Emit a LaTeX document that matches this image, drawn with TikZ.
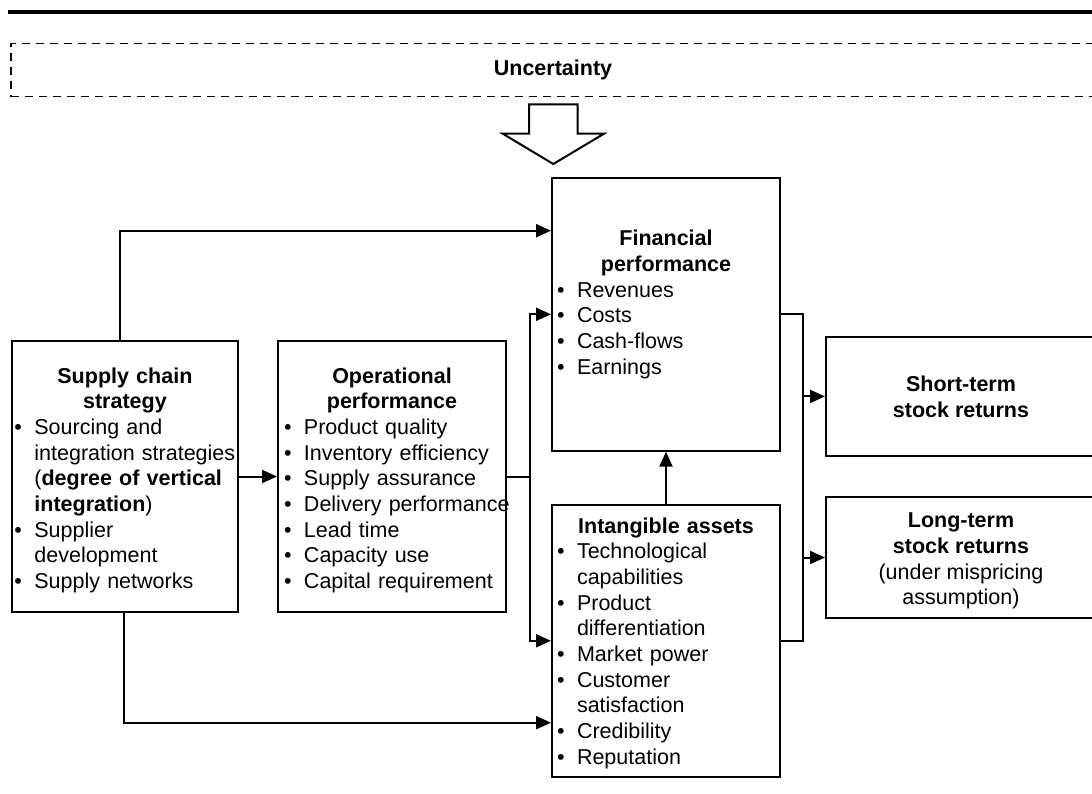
\documentclass[tikz,border=0pt]{standalone}
\usepackage{fontspec}
\setmainfont{Liberation Sans}
\usetikzlibrary{arrows.meta,calc}
\newcommand{\bl}{\makebox[20pt][l]{\textbullet}}
\newcommand{\ind}{\hspace*{20pt}}
\begin{document}
\begin{tikzpicture}[x=1pt,y=-1pt,
  lw/.style={line width=2pt},
  box/.style={draw,lw,inner sep=0pt,fill=none},
  txt/.style={inner sep=0pt,anchor=north,font=\fontsize{21.5}{25.7}\selectfont},
  arr/.style={lw,-{Triangle[length=15pt,width=13pt]}},
  conn/.style={lw}]
\useasboundingbox (0,0) rectangle (1092,794);
\clip (0,0) rectangle (1092,794);
% top rule
\draw[line width=4.5pt] (8,12) -- (1100,12);
% uncertainty dashed box (open to the right)
\node[draw,line width=1.8pt,dash pattern=on 8pt off 6pt,inner sep=0pt,
      minimum width=1110pt,minimum height=53pt,anchor=north west] (unc) at (10,42.7) {};
\node[inner sep=0pt,font=\fontsize{21.5}{25}\selectfont\bfseries] (unct) at (553,70) {Uncertainty};
% block arrow
\draw[lw,fill=white] (529,104.3) -- (577.7,104.3) -- (577.7,133.7) -- (604,133.7)
  -- (553.3,164) -- (502.7,133.7) -- (529,133.7) -- cycle;
% boxes
\node[box,minimum width=226.2pt,minimum height=271.6pt] (sc) at (124.9,476.5) {};
\node[box,minimum width=228pt,minimum height=271.6pt] (op) at (392,476.5) {};
\node[box,minimum width=228pt,minimum height=272.7pt] (fin) at (666,314.3) {};
\node[box,minimum width=228pt,minimum height=271.7pt] (ia) at (666,640.8) {};
\node[box,minimum width=270pt,minimum height=119.3pt] (st) at (961,396.4) {};
\node[box,minimum width=270pt,minimum height=121.6pt] (lt) at (961,557.5) {};
% texts
\node[txt,text width=221pt] (sct) at (124.9,367.3) {{\centering\bfseries Supply chain\\strategy\par}\raggedright
\bl Sourcing and\\\ind \mbox{integration strategies}\\\ind \mbox{(\textbf{degree of vertical}}\\\ind \mbox{\textbf{integration})}\\\bl Supplier\\\ind development\\\bl Supply networks};
\node[txt,text width=216pt] (opt) at (392,367.3) {{\centering\bfseries Operational\\performance\par}\raggedright
\bl \mbox{Product quality}\\\bl \mbox{Inventory efficiency}\\\bl \mbox{Supply assurance}\\\bl \mbox{Delivery performance}\\\bl \mbox{Lead time}\\\bl \mbox{Capacity use}\\\bl \mbox{Capital requirement}};
\node[txt,text width=218pt] (fint) at (666,230) {{\centering\bfseries Financial\\performance\par}\raggedright
\bl Revenues\\\bl Costs\\\bl Cash-flows\\\bl Earnings};
\node[txt,text width=218pt] (iat) at (666,517.3) {{\centering\bfseries Intangible assets\par}\raggedright
\bl Technological\\\ind capabilities\\\bl Product\\\ind differentiation\\\bl \mbox{Market power}\\\bl Customer\\\ind satisfaction\\\bl Credibility\\\bl Reputation};
\node[txt,align=center] (stt) at (961,376) {\textbf{Short-term}\\\textbf{stock returns}};
\node[txt,align=center] (ltt) at (961,512.7) {\textbf{Long-term}\\\textbf{stock returns}\\(under mispricing\\assumption)};
% connectors
\coordinate (j1) at (120,230.7);
\coordinate (j2) at (124,722.7);
\coordinate (bus) at (529.5,476.5);
\coordinate (rb) at (803,314.3);
\draw[arr] (sc.north -| j1) |- (fin.west |- j1);
\draw[arr] (sc.south -| j2) |- (ia.west |- j2);
\draw[arr] (sc.east) -- (op.west);
\draw[conn] (op.east) -- (bus);
\draw[arr] (bus) |- (fin.west);
\draw[arr] (bus) |- (ia.west);
\draw[arr] (ia.north) -- (fin.south);
\draw[conn] (fin.east) -- (rb) -- (rb |- ia.east) -- (ia.east);
\draw[arr] (rb |- st.west) -- (st.west);
\draw[arr] (rb |- lt.west) -- (lt.west);
\end{tikzpicture}
\end{document}
